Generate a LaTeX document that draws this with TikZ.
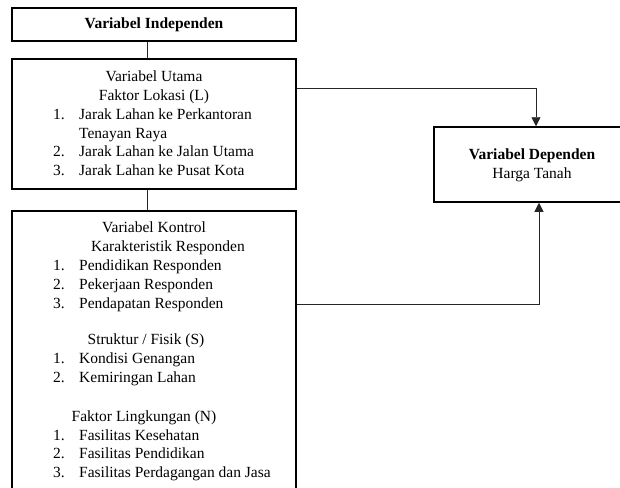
\documentclass[tikz,border=0pt]{standalone}
\usepackage{fontspec}
\setmainfont{Liberation Serif}
\usetikzlibrary{positioning,arrows.meta}

\begin{document}
\begin{tikzpicture}[x=1pt,y=-1pt,
  every node/.style={font=\fontsize{15.5}{19}\selectfont, inner sep=0pt},
  kotak/.style={draw, line width=1.5pt, minimum width=284pt},
  garis/.style={line width=0.8pt, draw=black!85},
  panah/.style={garis, -{Triangle[length=9pt,width=9pt]}}]
\useasboundingbox (0,0) rectangle (620,487);
\clip (0,0) rectangle (620,487);

% kotak utama
\node[kotak, minimum height=33pt] (indep) at (154,24.5) {};
\node[kotak, minimum height=130pt] (lokasi) at (154,124) {};
\node[kotak, minimum height=289pt] (kontrol) at (154,355.5) {};
\node[kotak, minimum width=196pt, minimum height=75pt] (dependen) at (532,164.5) {};

% judul variabel independen
\node[anchor=base, font=\fontsize{15.5}{19}\selectfont\bfseries] at (154,29) {Variabel Independen};

% faktor lokasi
\node[anchor=base] at (154,81) {Variabel Utama};
\node[anchor=base] at (154,100) {Faktor Lokasi (L)};
\node[anchor=base west] at (53,119) {1.};
\node[anchor=base west] at (79,119) {Jarak Lahan ke Perkantoran};
\node[anchor=base west] at (79,138) {Tenayan Raya};
\node[anchor=base west] at (53,156) {2.};
\node[anchor=base west] at (79,156) {Jarak Lahan ke Jalan Utama};
\node[anchor=base west] at (53,175) {3.};
\node[anchor=base west] at (79,175) {Jarak Lahan ke Pusat Kota};

% variabel kontrol
\node[anchor=base] at (154,232) {Variabel Kontrol};
\node[anchor=base] at (168,251) {Karakteristik Responden};
\node[anchor=base west] at (53,270) {1.};
\node[anchor=base west] at (79,270) {Pendidikan Responden};
\node[anchor=base west] at (53,289) {2.};
\node[anchor=base west] at (79,289) {Pekerjaan Responden};
\node[anchor=base west] at (53,308) {3.};
\node[anchor=base west] at (79,308) {Pendapatan Responden};

\node[anchor=base] at (146,344) {Struktur / Fisik (S)};
\node[anchor=base west] at (53,363) {1.};
\node[anchor=base west] at (79,363) {Kondisi Genangan};
\node[anchor=base west] at (53,382) {2.};
\node[anchor=base west] at (79,382) {Kemiringan Lahan};

\node[anchor=base] at (144,421) {Faktor Lingkungan (N)};
\node[anchor=base west] at (53,440) {1.};
\node[anchor=base west] at (79,440) {Fasilitas Kesehatan};
\node[anchor=base west] at (53,458) {2.};
\node[anchor=base west] at (79,458) {Fasilitas Pendidikan};
\node[anchor=base west] at (53,477) {3.};
\node[anchor=base west] at (79,477) {Fasilitas Perdagangan dan Jasa};

% variabel dependen
\node[anchor=base, font=\fontsize{15.5}{19}\selectfont\bfseries] at (532,159) {Variabel Dependen};
\node[anchor=base] at (532,178) {Harga Tanah};

% penghubung
\draw[garis] ([xshift=-7pt]indep.south) -- ([xshift=-7pt]lokasi.north);
\draw[garis] ([xshift=-7pt]lokasi.south) -- ([xshift=-7pt]kontrol.north);
\draw[panah] ([yshift=36pt]lokasi.east) -| ([xshift=4pt]dependen.north);
\draw[panah] ([yshift=51.5pt]kontrol.east) -| ([xshift=7pt]dependen.south);
\end{tikzpicture}
\end{document}
